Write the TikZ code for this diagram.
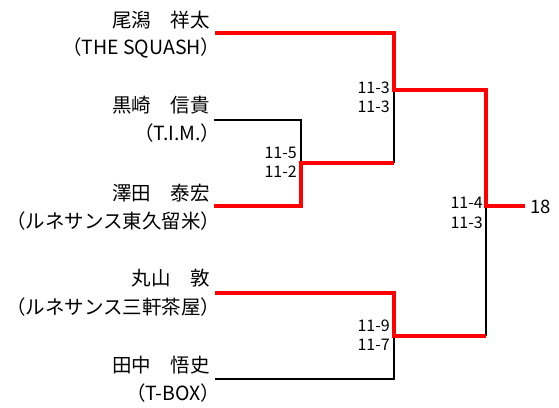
\documentclass[tikz,border=0pt]{standalone}
\usepackage{fontspec}
\setmainfont{Noto Sans CJK JP}
\begin{document}
\begin{tikzpicture}[x=1pt,y=-1pt,
  win/.style={draw=red,line width=3.2pt},
  lose/.style={draw=black,line width=1.3pt},
  pname/.style={anchor=east,inner sep=0pt,font=\fontsize{19.5}{21}\selectfont},
  pclub/.style={anchor=east,inner sep=0pt,font=\fontsize{19.5}{21}\selectfont,xshift=10.5pt},
  pscore/.style={anchor=east,inner sep=0pt,font=\fontsize{16}{18}\selectfont},
  pfinal/.style={anchor=west,inner sep=0pt,font=\fontsize{18.5}{21}\selectfont}]
\useasboundingbox (0,0) rectangle (559,407);
% names
\node[pname] (n1) at (210,20) {尾潟　祥太};
\node[pclub] (c1) at (210,48) {（THE SQUASH）};
\node[pname] (n2) at (210,105) {黒崎　信貴};
\node[pclub] (c2) at (210,133) {（T.I.M.）};
\node[pname] (n3) at (210,193) {澤田　泰宏};
\node[pclub] (c3) at (210,221) {（ルネサンス東久留米）};
\node[pname] (n4) at (210,278) {丸山　敦};
\node[pclub] (c4) at (210,307) {（ルネサンス三軒茶屋）};
\node[pname] (n5) at (210,365) {田中　悟史};
\node[pclub] (c5) at (210,393) {（T-BOX）};
% line starts and junctions
\coordinate (a1) at (215,33);
\coordinate (a2) at (214,120);
\coordinate (a3) at (214,206);
\coordinate (a4) at (215,293);
\coordinate (a5) at (215,379);
\coordinate (m1) at (301,163);
\coordinate (s1) at (394,90);
\coordinate (s2) at (394,336);
\coordinate (f) at (486,206);
\coordinate (w) at (525,206);
% losers
\draw[lose] (a2) -| (m1);
\draw[lose] (s1) -- (s1 |- m1);
\draw[lose] (a5) -| (s2);
\draw[lose] (f |- s2) -- (f);
% winners
\draw[win] (a3) -| (m1) -- (s1 |- m1);
\draw[win] (a1) -| (s1) -- (f |- s1) -- (f) -- (w);
\draw[win] (a4) -| (s2) -- (f |- s2);
% scores
\node[pscore] (r1a) at (390,88) {11-3};
\node[pscore] (r1b) at (390,107) {11-3};
\node[pscore] (r2a) at (297,153) {11-5};
\node[pscore] (r2b) at (297,172) {11-2};
\node[pscore] (r3a) at (483,203) {11-4};
\node[pscore] (r3b) at (483,223) {11-3};
\node[pscore] (r4a) at (390,326) {11-9};
\node[pscore] (r4b) at (390,345) {11-7};
\node[pfinal] (res) at (530,207) {18};
\end{tikzpicture}
\end{document}
